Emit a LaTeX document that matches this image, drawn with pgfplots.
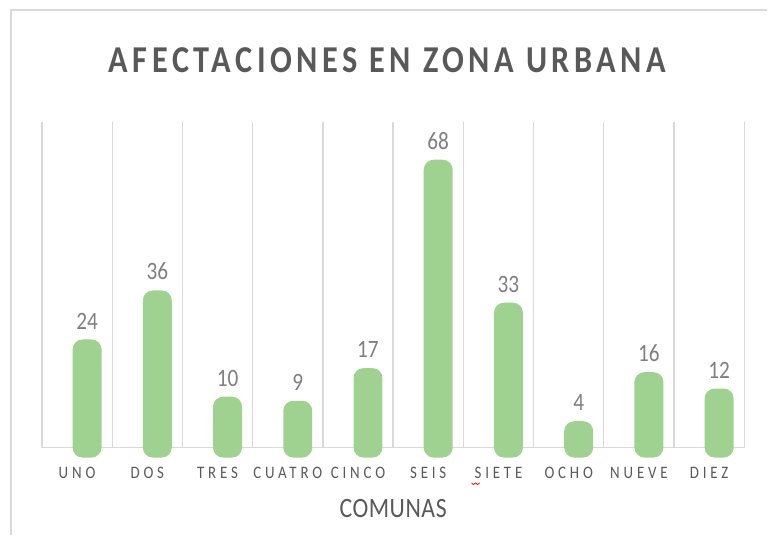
\documentclass[border=0pt]{standalone}
\usepackage{pgfplots}
\pgfplotsset{compat=1.18}
\usepackage{pgfplotstable}
\usepackage{fontspec}
\setmainfont{Carlito}[FakeStretch=0.85]
\newfontfamily\titlefont{Carlito}[FakeStretch=0.85, LetterSpace=12]
\newfontfamily\tickfont{Carlito}[FakeStretch=0.85, LetterSpace=22]
\newfontfamily\labfont{Carlito}[FakeStretch=0.85, LetterSpace=2]
\definecolor{barg}{HTML}{9FD291}
\definecolor{gridg}{HTML}{D9D9D9}
\definecolor{txtg}{HTML}{595959}
\definecolor{lblg}{HTML}{7F7F7F}

\pgfplotstableread{
cat v
0 24
1 36
2 10
3 9
4 17
5 68
6 33
7 4
8 16
9 12
}\datatable

\begin{document}
\begin{tikzpicture}
\draw[gridg, line width=1.5pt] (11pt,0pt) -- (11pt,526pt) -- (768pt,526pt);
% frame, grid, baseline, texts
\begin{axis}[
  at={(42pt,88pt)}, anchor=south west,
  scale only axis, width=703pt, height=326pt,
  xmin=-0.5, xmax=9.5, ymin=2.445, ymax=82.15,
  axis x line*=bottom, axis y line=none,
  x axis line style={draw=gridg, line width=1.5pt, -},
  xtick={0,...,9},
  xticklabels={UNO,DOS,TRES,CUATRO,CINCO,SEIS,SIETE,OCHO,NUEVE,DIEZ},
  xticklabel style={anchor=base, yshift=-31pt, font=\tickfont\fontsize{17.5}{19}\selectfont, text=txtg},
  major tick length=0pt, minor tick length=0pt,
  minor xtick={-0.5,0.5,...,9.5},
  xminorgrids,
  minor grid style={draw=gridg, line width=1.3pt},
  title={\titlefont\bfseries AFECTACIONES EN ZONA URBANA},
  title style={at={(axis description cs:0.492,1.1329)}, anchor=base, font=\fontsize{38}{42}\selectfont, text=txtg},
  xlabel={\labfont COMUNAS},
  xlabel style={at={(axis description cs:0.5,-0.2147)}, anchor=base, font=\fontsize{28}{32}\selectfont, text=txtg},
]
\end{axis}
% bars
\begin{axis}[
  at={(42pt,78pt)}, anchor=south west,
  scale only axis, width=703pt, height=336pt,
  xmin=-0.5, xmax=9.5, ymin=0, ymax=82.15,
  axis lines=none, xtick=\empty, ytick=\empty,
  ybar, bar width=29pt, bar shift=10pt,
  clip=false,
  /pgf/number format/assume math mode=true,
  point meta=explicit,
  nodes near coords={\pgfmathprintnumber{\pgfplotspointmeta}},
  nodes near coords style={anchor=base, yshift=10.5pt, font=\fontsize{25}{28}\selectfont, text=lblg},
]
\addplot[fill=barg, draw=none, rounded corners=10pt]
  table[x=cat, y expr=\thisrow{v}+4.89, meta=v] {\datatable};
\end{axis}
\draw[red, line width=0.8pt] (472pt,52.5pt) -- (474pt,51pt) -- (476pt,52.5pt) -- (478pt,51pt) -- (480pt,52.5pt);
\useasboundingbox (0,0) rectangle (768pt,536pt);
\end{tikzpicture}
\end{document}
